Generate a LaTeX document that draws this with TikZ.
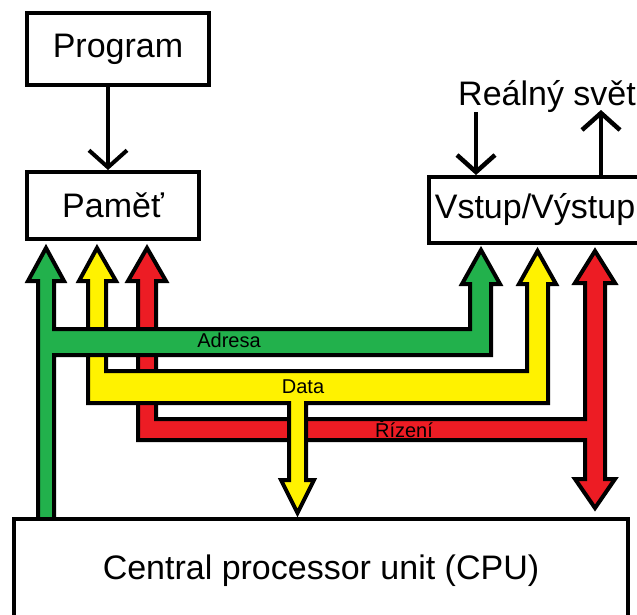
\documentclass[tikz,border=0pt]{standalone}
\usepackage{fontspec}
\setmainfont{Liberation Sans}
\usetikzlibrary{arrows.meta}
\definecolor{busgreen}{RGB}{34,177,76}
\definecolor{busyellow}{RGB}{255,242,0}
\definecolor{busred}{RGB}{237,28,36}
\tikzset{
	box/.style={draw,line width=4pt,fill=white,inner sep=0pt},
	bus/.style={draw=black,line width=4pt,line join=miter,miter limit=20},
	buslabel/.style={anchor=base,inner sep=0pt,font=\fontsize{20}{24}\selectfont}
}
\begin{document}
\begin{tikzpicture}[x=1pt,y=-1pt,line cap=butt,>={Straight Barb[length=17pt,width=38pt]},font=\fontsize{34}{40}\selectfont]
			\useasboundingbox (0,0) rectangle (637,614);
			\fill[busred,bus] (138,440)--(138,281)--(128,281)--(147,248)--(166,281)--(156,281)--(156,419)--(585,419)--(585,283)--(575,283)--(595,251)--(615,283)--(605,283)--(605,479)--(615,479)--(595,508)--(575,479)--(585,479)--(585,440)--cycle;
			\fill[busyellow,bus] (88,403)--(88,281)--(79,281)--(97,248)--(116,281)--(106,281)--(106,371)--(527,371)--(527,284)--(519,284)--(537.5,251)--(556,284)--(548,284)--(548,403)--(306,403)--(306,480)--(314,480)--(297.5,513)--(281,480)--(289,480)--(289,403)--cycle;
			\fill[busgreen,bus] (38,519)--(38,281)--(28,281)--(46,248)--(64,281)--(54,281)--(54,329)--(470,329)--(470,284)--(462,284)--(481,250)--(500,284)--(491,284)--(491,355)--(54,355)--(54,519)--cycle;
			\node[buslabel] (adr) at (229,347) {Adresa};
			\node[buslabel] (dat) at (303,393) {Data};
			\node[buslabel] (riz) at (404,437) {Řízení};
			\node[box,minimum width=182pt,minimum height=72pt] (prog) at (118,49) {Program};
			\node[box,minimum width=172pt,minimum height=67pt] (mem) at (113,205.5) {Paměť};
			\node[box,minimum width=212pt,minimum height=66pt] (io) at (535,210) {Vstup/Výstup};
			\node[box,anchor=north,minimum width=614pt,minimum height=104pt] (cpu) at (321,517) {Central processor unit (CPU)};
			\node[anchor=base west,inner sep=0pt] (svet) at (458,105) {Reálný svět};
			\coordinate (pm) at (108,0);
			\coordinate (vin) at (476,112);
			\coordinate (vout) at (601,110);
			\draw[->,line width=4pt] (pm |- prog.south)--(pm |- mem.north);
			\draw[->,line width=4.5pt] (vin)--(vin |- io.north);
			\draw[->,line width=4.5pt] (vout |- io.north)--(vout);
		\end{tikzpicture}
\end{document}
